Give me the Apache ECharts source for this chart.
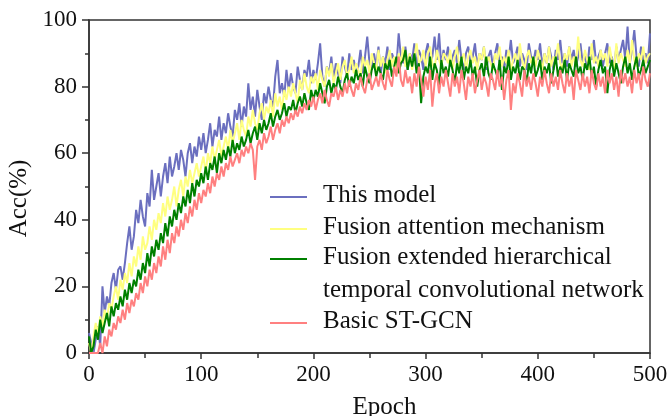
<!DOCTYPE html>
<html>
<head>
<meta charset="utf-8">
<script src="https://cdn.jsdelivr.net/npm/echarts@6/dist/echarts.min.js"></script>
<style>
  html, body { margin: 0; padding: 0; background: #fff; }
  #chart { width: 672px; height: 416px; }
</style>
</head>
<body>
<div id="chart"></div>
<script>
// accuracy, one value every 2 epochs (0..500)
var thisModel = [
  6, 3, 0, 4, 8, 2, 20, 12, 17, 14,
  21, 24, 19, 25, 26, 22, 27, 33, 38, 31,
  35, 43, 39, 46, 41, 38, 48, 44, 55, 46,
  50, 54, 47, 53, 57, 51, 59, 53, 56, 60,
  55, 61, 58, 53, 60, 63, 57, 62, 59, 65,
  61, 66, 60, 64, 69, 62, 67, 65, 71, 64,
  69, 66, 72, 68, 65, 73, 70, 75, 68, 74,
  71, 81, 73, 77, 71, 79, 74, 70, 78, 75,
  80, 76, 74, 83, 88, 78, 81, 77, 85, 79,
  84, 80, 78, 86, 82, 79, 85, 83, 88, 81,
  85, 82, 87, 93, 83, 80, 86, 84, 89, 82,
  87, 84, 81, 89, 86, 83, 90, 85, 88, 84,
  86, 91, 84, 89, 95, 87, 85, 90, 86, 92,
  84, 89, 87, 92, 85, 90, 88, 86, 96, 89,
  87, 92, 85, 90, 88, 93, 86, 91, 89, 85,
  90, 93, 87, 89, 95, 88, 96, 86, 91, 88,
  92, 86, 89, 91, 87, 94, 88, 85, 90, 92,
  87, 89, 93, 86, 90, 88, 92, 85, 89, 91,
  86, 90, 93, 87, 89, 85, 91, 88, 94, 87,
  89, 92, 86, 90, 88, 85, 93, 89, 87, 91,
  88, 93, 86, 90, 87, 92, 89, 85, 91, 88,
  94, 87, 90, 86, 92, 88, 91, 86, 89, 93,
  87, 90, 85, 92, 88, 94, 87, 89, 91, 86,
  90, 93, 87, 89, 85, 92, 88, 91, 94, 88,
  98, 87, 91, 97, 89, 86, 92, 88, 90, 87,
  96
];
var attention = [
  3, 0, 5, 9, 6, 11, 8, 13, 10, 15,
  13, 17, 20, 16, 22, 19, 24, 21, 27, 23,
  29, 26, 32, 28, 35, 31, 33, 38, 34, 40,
  37, 42, 39, 45, 41, 47, 43, 46, 50, 44,
  49, 52, 47, 53, 50, 55, 51, 54, 57, 53,
  56, 59, 54, 60, 57, 62, 58, 61, 64, 59,
  62, 65, 61, 67, 63, 66, 69, 64, 70, 67,
  65, 71, 68, 73, 69, 67, 72, 75, 70, 74,
  72, 76, 71, 78, 74, 77, 73, 79, 76, 80,
  77, 81, 78, 75, 82, 79, 84, 80, 78, 83,
  81, 84, 79, 85, 82, 80, 86, 83, 87, 81,
  84, 87, 82, 86, 88, 83, 85, 89, 84, 87,
  85, 83, 89, 86, 88, 84, 90, 87, 85, 91,
  86, 89, 84, 88, 91, 86, 89, 85, 90, 87,
  92, 86, 88, 90, 85, 89, 93, 87, 88, 91,
  86, 90, 92, 87, 85, 91, 88, 86, 90, 89,
  87, 91, 85, 89, 92, 86, 88, 90, 85, 89,
  91, 87, 89, 85, 90, 88, 92, 86, 89, 87,
  85, 90, 88, 92, 86, 89, 87, 91, 85, 88,
  90, 86, 93, 88, 85, 89, 91, 87, 89, 86,
  91, 88, 85, 90, 87, 92, 86, 89, 88, 93,
  87, 85, 90, 88, 92, 86, 89, 87, 95, 88,
  86, 91, 88, 85, 93, 87, 89, 86, 91, 88,
  90, 86, 92, 88, 85, 93, 87, 90, 88, 86,
  91, 87, 94, 88, 86, 90, 88, 92, 87, 89,
  90
];
var extendedTcn = [
  5, 0, 2, 7, 4, 10, 6, 9, 12, 8,
  14, 11, 15, 13, 17, 14, 19, 16, 21, 18,
  22, 20, 25, 22, 27, 24, 30, 26, 32, 29,
  34, 31, 36, 33, 39, 35, 41, 38, 43, 40,
  45, 42, 47, 44, 49, 45, 51, 47, 52, 50,
  54, 51, 56, 52, 57, 55, 59, 54, 60, 57,
  61, 58, 62, 59, 64, 60, 63, 61, 65, 62,
  64, 67, 63, 66, 68, 64, 69, 66, 70, 67,
  69, 72, 68, 71, 73, 70, 72, 75, 71, 74,
  73, 76, 72, 75, 77, 74, 78, 75, 73, 79,
  76, 79, 77, 81, 78, 75, 80, 82, 78, 81,
  79, 83, 80, 78, 82, 84, 80, 83, 81, 85,
  82, 84, 80, 86, 83, 81, 85, 87, 83, 86,
  84, 82, 87, 85, 88, 83, 86, 89, 84, 87,
  88, 91, 85, 89, 86, 90, 84, 87, 75, 83,
  86, 84, 89, 82, 87, 85, 80, 88, 84, 86,
  83, 88, 85, 81, 87, 84, 89, 82, 86, 84,
  88, 83, 86, 80, 85, 87, 83, 89, 84, 82,
  87, 85, 83, 88, 79, 86, 84, 89, 82, 86,
  84, 88, 82, 86, 85, 81, 87, 84, 89, 83,
  85, 88, 82, 86, 84, 87, 81, 85, 89, 83,
  86, 84, 88, 82, 87, 85, 83, 89, 84, 86,
  82, 87, 85, 89, 83, 86, 80, 85, 88, 84,
  86, 78, 85, 88, 83, 87, 84, 81, 86, 89,
  84, 87, 82, 86, 89, 83, 85, 88, 84, 86,
  88
];
var basicStgcn = [
  0, 0, 0, 0, 0, 3, 0, 5, 2, 7,
  5, 9, 7, 11, 9, 13, 10, 15, 12, 16,
  14, 18, 16, 21, 18, 23, 20, 25, 22, 27,
  24, 29, 26, 32, 28, 34, 30, 36, 33, 38,
  35, 40, 37, 42, 39, 44, 41, 46, 43, 48,
  45, 49, 47, 51, 48, 53, 50, 54, 52, 56,
  53, 57, 55, 59, 56, 58, 60, 57, 61, 59,
  62, 60, 63, 61, 52, 62, 64, 61, 66, 63,
  65, 68, 64, 67, 69, 66, 70, 68, 71, 69,
  72, 70, 73, 71, 74, 72, 75, 73, 76, 74,
  77, 73, 76, 78, 75, 79, 76, 74, 78, 77,
  80, 76, 79, 77, 81, 78, 82, 79, 77, 81,
  79, 83, 80, 78, 82, 84, 79, 81, 83, 80,
  84, 81, 79, 85, 82, 80, 86, 83, 89, 82,
  80, 85, 81, 83, 78, 84, 80, 86, 82, 77,
  83, 79, 85, 74, 81, 84, 78, 83, 80, 85,
  81, 77, 84, 80, 83, 78, 85, 81, 76, 83,
  80, 84, 78, 82, 85, 79, 83, 81, 77, 84,
  82, 79, 85, 80, 83, 76, 82, 85, 73, 81,
  78, 84, 81, 77, 85, 80, 83, 79, 84, 81,
  77, 83, 80, 85, 81, 78, 84, 80, 83, 79,
  85, 81, 78, 84, 80, 83, 76, 85, 82, 79,
  84, 80, 83, 78, 85, 81, 79, 84, 80, 83,
  78, 85, 81, 84, 79, 83, 77, 85, 81, 84,
  80, 83, 78, 85, 81, 84, 79, 86, 82, 80,
  84
];
var STEP = 2;

var names = ['This model', 'Fusion attention mechanism',
             'Fusion extended hierarchical temporal convolutional network', 'Basic ST-GCN'];
var colors = ['#6b6fbf', '#ffff80', '#008000', '#ff8080'];
var values = [thisModel, attention, extendedTcn, basicStgcn];

var font = 'Liberation Serif, Times New Roman, serif';

function pairs(arr) {
  return arr.map(function (v, i) { return [i * STEP, v]; });
}

var series = values.map(function (arr, k) {
  return {
    name: names[k],
    type: 'line',
    data: pairs(arr),
    showSymbol: false,
    lineStyle: { color: colors[k], width: 2 },
    itemStyle: { color: colors[k] },
    z: 2 + k
  };
});

// legend drawn by hand (two-line entry keeps its line on the first row)
var legendRows = [197, 229, 259, 323];
var legendText = [
  { t: 'This model', y: 197 },
  { t: 'Fusion attention mechanism', y: 229 },
  { t: 'Fusion extended hierarchical', y: 259 },
  { t: 'temporal convolutional network', y: 292 },
  { t: 'Basic ST-GCN', y: 323 }
];
var graphics = [];
legendRows.forEach(function (y, k) {
  graphics.push({
    type: 'line', shape: { x1: 270, y1: y, x2: 307, y2: y },
    style: { stroke: colors[k], lineWidth: 2 }, z: 10
  });
});
legendText.forEach(function (it) {
  graphics.push({
    type: 'text', left: 323, top: it.y - 14,
    style: { text: it.t, fontFamily: font, fontSize: 25, fill: '#111' }, z: 10
  });
});

var chart = echarts.init(document.getElementById('chart'));
chart.setOption({
  animation: false,
  backgroundColor: '#fff',
  grid: {
    left: 89, right: 22, top: 20, bottom: 63,
    outerBoundsMode: 'none', containLabel: false,
    show: true, borderColor: '#333', borderWidth: 1.5
  },
  xAxis: {
    type: 'value', min: 0, max: 500, interval: 100,
    name: 'Epoch', nameLocation: 'middle', nameGap: 42,
    nameTextStyle: { fontFamily: font, fontSize: 25, color: '#111', padding: [0, 0, 0, 30] },
    axisLine: { lineStyle: { color: '#333', width: 1.5 } },
    axisTick: { inside: false, length: 6, lineStyle: { color: '#333', width: 1.5 } },
    minorTick: { show: true, splitNumber: 2, length: 5, lineStyle: { color: '#333', width: 1.5 } },
    splitLine: { show: false },
    axisLabel: { fontFamily: font, fontSize: 23, color: '#111', margin: 10 }
  },
  yAxis: {
    type: 'value', min: 0, max: 100, interval: 20,
    name: 'Acc(%)', nameLocation: 'middle', nameGap: 52, nameRotate: 90,
    nameTextStyle: { fontFamily: font, fontSize: 25, color: '#111', padding: [0, 24, 0, 0] },
    axisLine: { lineStyle: { color: '#333', width: 1.5 } },
    axisTick: { inside: false, length: 7, lineStyle: { color: '#333', width: 1.5 } },
    minorTick: { show: true, splitNumber: 2, length: 4, lineStyle: { color: '#333', width: 1.5 } },
    splitLine: { show: false },
    axisLabel: { fontFamily: font, fontSize: 23, color: '#111', margin: 12 }
  },
  series: series,
  graphic: graphics
});
</script>
</body>
</html>
